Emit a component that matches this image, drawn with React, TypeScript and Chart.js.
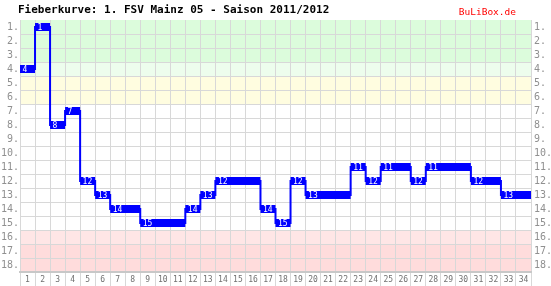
import React, { useEffect, useRef } from 'react';
import { Chart, registerables } from 'chart.js';

Chart.register(...registerables);

const matchdays = ['1', '2', '3', '4', '5', '6', '7', '8', '9', '10', '11', '12', '13', '14', '15', '16', '17', '18', '19', '20', '21', '22', '23', '24', '25', '26', '27', '28', '29', '30', '31', '32', '33', '34'];
const ranks = [4, 1, 8, 7, 12, 13, 14, 14, 15, 15, 15, 14, 13, 12, 12, 12, 14, 15, 12, 13, 13, 13, 11, 12, 11, 11, 12, 11, 11, 11, 12, 12, 13, 13];
const rankLabels = ['1.', '2.', '3.', '4.', '5.', '6.', '7.', '8.', '9.', '10.', '11.', '12.', '13.', '14.', '15.', '16.', '17.', '18.'];
const titleText = 'Fieberkurve: 1. FSV Mainz 05 - Saison 2011/2012';
const sourceText = 'BuLiBox.de';

const bandFrom = [1, 4, 5, 16, 17];
const bandTo = [3, 4, 6, 16, 18];
const bandColors = ['#dcfcdc', '#edfded', '#fffde0', '#ffe6e6', '#ffdcdc'];

const MONO = '"DejaVu Sans Mono", monospace';
const GRID = '#d8d8d8';

export default function App() {
  const ref = useRef<HTMLCanvasElement>(null);

  useEffect(() => {
    document.body.style.margin = '0';
    const canvas = ref.current;
    if (!canvas) return;
    const n = ranks.length;
    const nRanks = rankLabels.length;

    const steps: { x: number; y: number }[] = ranks.map((r, i) => ({ x: i + 0.5, y: r }));
    steps.push({ x: n + 0.5, y: ranks[n - 1] });

    const bars: { x: number; y: number | null }[] = [];
    ranks.forEach((r, i) => {
      bars.push({ x: i + 0.5, y: r }, { x: i + 1.5, y: r }, { x: i + 1.5, y: null });
    });

    const yTicks: number[] = [];
    for (let v = 0.5; v <= nRanks + 0.5; v += 0.5) yTicks.push(v);

    const decor = {
      id: 'decor',
      beforeDraw(chart: any) {
        const { ctx, chartArea } = chart;
        const y = chart.scales.y;
        ctx.save();
        bandFrom.forEach((f, k) => {
          const t = y.getPixelForValue(f - 0.5);
          const b = y.getPixelForValue(bandTo[k] + 0.5);
          ctx.fillStyle = bandColors[k];
          ctx.fillRect(chartArea.left, t, chartArea.right - chartArea.left, b - t);
        });
        ctx.fillStyle = '#000000';
        ctx.font = 'bold 11px ' + MONO;
        ctx.textBaseline = 'middle';
        ctx.textAlign = 'left';
        ctx.fillText(titleText, 18, 10);
        ctx.fillStyle = '#ff0000';
        ctx.font = '9.5px ' + MONO;
        ctx.textAlign = 'right';
        ctx.fillText(sourceText, 516, 12.5);
        ctx.restore();
      },
      afterDatasetsDraw(chart: any) {
        const { ctx } = chart;
        const xs = chart.scales.xl;
        const y = chart.scales.y;
        ctx.save();
        ctx.fillStyle = '#ffffff';
        ctx.font = '8px ' + MONO;
        ctx.textBaseline = 'middle';
        ctx.textAlign = 'left';
        ranks.forEach((r, i) => {
          if (i === 0 || ranks[i - 1] !== r) {
            ctx.fillText(String(r), xs.getPixelForValue(i + 0.5) + 2.5, y.getPixelForValue(r) + 0.5);
          }
        });
        ctx.restore();
      },
    };

    const yTickCfg = {
      autoSkip: false,
      color: '#909090',
      font: { family: MONO, size: 10 },
      callback: (v: number) => (Number.isInteger(v) ? rankLabels[v - 1] : ''),
    };

    const chart = new Chart(canvas, {
      type: 'line',
      data: {
        labels: matchdays,
        datasets: [
          {
            data: bars as any,
            xAxisID: 'xl',
            yAxisID: 'y',
            borderColor: '#0000ff',
            borderWidth: 8,
            borderCapStyle: 'butt',
            pointRadius: 0,
            spanGaps: false,
            fill: false,
          },
          {
            data: steps as any,
            xAxisID: 'xl',
            yAxisID: 'y',
            borderColor: '#0000ff',
            borderWidth: 2,
            stepped: 'before',
            pointRadius: 0,
            fill: false,
          },
        ],
      },
      options: {
        animation: false,
        responsive: false,
        devicePixelRatio: 1,
        layout: { padding: { top: 20, left: 0, right: 0, bottom: 0 } },
        plugins: { legend: { display: false }, tooltip: { enabled: false }, title: { display: false } },
        scales: {
          xl: { type: 'linear', display: false, min: 0.5, max: n + 0.5 },
          x: {
            type: 'category',
            position: 'bottom',
            offset: true,
            afterFit: (s: any) => { s.height = 14; },
            grid: { offset: true, color: GRID, tickLength: 14, tickColor: GRID },
            border: { color: '#c8c8c8', width: 2 },
            ticks: { autoSkip: false, maxRotation: 0, padding: -11, color: '#707070', font: { family: MONO, size: 8 } },
          },
          y: {
            type: 'linear',
            position: 'left',
            reverse: true,
            min: 0.5,
            max: nRanks + 0.5,
            afterBuildTicks: (s: any) => { s.ticks = yTicks.map((v) => ({ value: v })); },
            afterFit: (s: any) => { s.width = 20; },
            grid: {
              drawTicks: false,
              color: (c: any) => (c.tick && c.tick.value % 1 !== 0 && c.tick.value > 0.5 && c.tick.value < nRanks + 0.5 ? GRID : 'rgba(0,0,0,0)'),
            },
            border: { display: false },
            ticks: { ...yTickCfg, padding: 1 },
          },
          y2: {
            type: 'linear',
            position: 'right',
            reverse: true,
            min: 0.5,
            max: nRanks + 0.5,
            afterBuildTicks: (s: any) => { s.ticks = yTicks.map((v) => ({ value: v })); },
            afterFit: (s: any) => { s.width = 20; },
            grid: { display: false, drawTicks: false },
            border: { display: false },
            ticks: { ...yTickCfg, padding: 3 },
          },
        },
      } as any,
      plugins: [decor],
    });

    return () => chart.destroy();
  }, []);

  return (
    <div style={{ position: 'absolute', left: 0, top: 0, width: 551, height: 286 }}>
      <canvas ref={ref} width={551} height={286} style={{ width: 551, height: 286, display: 'block' }} />
    </div>
  );
}
